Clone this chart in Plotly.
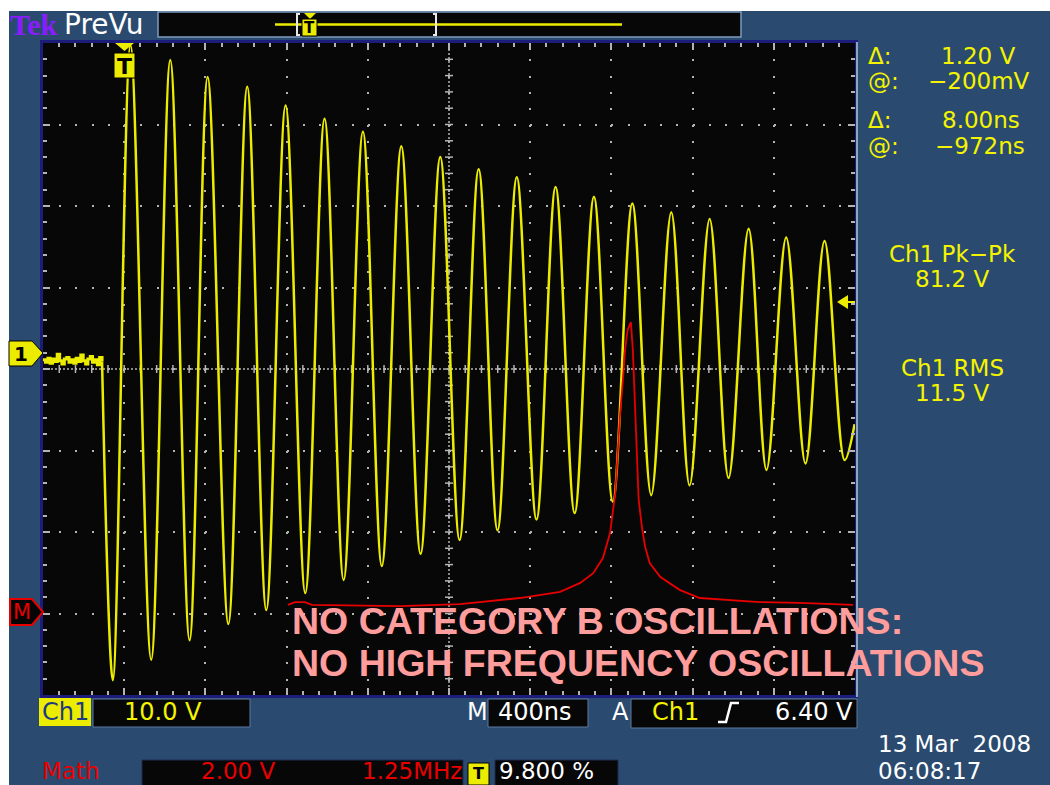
import plotly.graph_objects as go

# ---------------- DATA ----------------
# Ch1 pre-trigger noise (time ns relative to trigger, volts)
noise_t = [-392, -380, -368, -357, -345, -334, -322, -310, -299, -287, -275, -264, -252,
           -240, -229, -217, -206, -194, -182, -171, -159, -148, -136, -124, -113, -101]
noise_v = [-0.6, -0.9, -0.4, -1.0, -0.5, -0.8, 0.1, -0.7, -1.1, -0.5, -0.3, -0.9, -0.6,
           -1.0, -0.4, -0.8, 0.0, -0.7, -1.1, -0.5, -0.2, -0.9, -0.6, -1.2, -0.3, -0.8]

# Ch1 ringing: positive peaks and negative troughs (ns, V)
peak_t = [39, 235, 419, 614, 803, 995, 1184, 1373, 1565, 1754, 1942, 2133, 2322, 2511,
          2703, 2892, 3084, 3269, 3458]
peak_v = [38.0, 36.2, 34.1, 32.9, 30.6, 29.0, 27.4, 25.6, 24.3, 22.8, 21.8, 20.6, 19.4,
          18.6, 17.5, 16.7, 15.5, 14.4, 14.0]
trough_t = [-48, 141, 330, 521, 708, 900, 1089, 1277, 1468, 1660, 1847, 2039, 2227, 2415,
            2604, 2793, 2985, 3172, 3364, 3557]
trough_v = [-39.9, -37.4, -35.0, -33.0, -31.3, -29.2, -27.6, -25.9, -24.4, -22.7, -21.5,
            -20.2, -19.4, -18.0, -17.2, -16.0, -15.1, -14.1, -13.3, -12.9]
end_t = [3606]
end_v = [-8.5]

# Math (FFT) trace: frequency MHz, magnitude V
fft_f = [3.77, 3.88, 4.03, 4.14, 5.50, 6.42, 7.34, 7.96, 8.27, 8.47, 8.62, 8.73, 8.77, 8.81,
         8.85, 8.88, 8.93, 8.96, 9.00, 9.05, 9.08, 9.11, 9.14, 9.17, 9.22, 9.27, 9.34, 9.50,
         9.80, 10.11, 11.03, 11.65, 12.47]
fft_v = [0.21, 0.28, 0.28, 0.21, 0.18, 0.23, 0.38, 0.53, 0.75, 0.99, 1.36, 1.98, 2.47, 2.96,
         4.01, 4.82, 5.80, 6.47, 6.96, 7.15, 6.47, 5.24, 3.77, 2.79, 2.12, 1.63, 1.24, 0.90,
         0.58, 0.38, 0.28, 0.26, 0.21]

# Readouts
cursor_v_delta = "1.20 V"
cursor_v_at = "−200mV"
cursor_t_delta = "8.00ns"
cursor_t_at = "−972ns"
pkpk_label, pkpk_value = "Ch1 Pk−Pk", "81.2 V"
rms_label, rms_value = "Ch1 RMS", "11.5 V"
ch1_scale = "10.0 V"
time_scale = "400ns"
trig_level = "6.40 V"
math_scale = "2.00 V"
math_freq = "1.25MHz"
trig_pos = "9.800 %"
date_str = "13 Mar  2008"
time_str = "06:08:17"
overlay_lines = ["NO CATEGORY B OSCILLATIONS:", "NO HIGH FREQUENCY OSCILLATIONS"]

# ---------------- STYLE ----------------
BLUE = "#2a4b6f"
YEL = "#ecec00"
TXTY = "#f4f400"
RED = "#e80000"
GRID = "#b4b4b4"
NAVY = "#1c1c7a"
SANS = "DejaVu Sans"

L, R, T, B = 43, 855, 43, 695
W, H = R - L, B - T


def px(x):
    return (x - L) / W


def py(y):
    return (B - y) / H


shapes, anns = [], []


def rect(x0, y0, x1, y1, fill, line=None, lw=1, layer="above"):
    shapes.append(dict(type="rect", xref="paper", yref="paper",
                       x0=px(x0), x1=px(x1), y0=py(y1), y1=py(y0),
                       fillcolor=fill,
                       line=dict(color=line if line else fill, width=lw if line else 0),
                       layer=layer))


def path(pts, fill=None, line=None, lw=1, close=True, layer="above"):
    s = "M " + " L ".join(f"{px(x):.5f},{py(y):.5f}" for x, y in pts)
    if close:
        s += " Z"
    d = dict(type="path", xref="paper", yref="paper", path=s, layer=layer,
             line=dict(color=line if line else (fill or "rgba(0,0,0,0)"),
                       width=lw if line else 0))
    if fill:
        d["fillcolor"] = fill
    shapes.append(d)


def text(x, y, s, color, size=24, anchor="left", family=SANS):
    anns.append(dict(xref="paper", yref="paper", x=px(x), y=py(y), text=s,
                     showarrow=False, xanchor=anchor, yanchor="middle", borderpad=0,
                     font=dict(family=family, size=size, color=color)))


# ---------------- TRACES ----------------
wave_t = [noise_t[-1]]
wave_v = [noise_v[-1]]
for i in range(len(trough_t)):
    wave_t.append(trough_t[i])
    wave_v.append(trough_v[i])
    if i < len(peak_t):
        wave_t.append(peak_t[i])
        wave_v.append(peak_v[i])
wave_t += end_t
wave_v += end_v

fig = go.Figure()
fig.add_trace(go.Scatter(x=noise_t, y=noise_v, mode="lines",
                         line=dict(color=YEL, width=3, shape="hv"), hoverinfo="skip"))
fig.add_trace(go.Scatter(x=wave_t, y=wave_v, mode="lines",
                         line=dict(color=YEL, width=2.5, shape="spline", smoothing=1.0),
                         hoverinfo="skip"))
fig.add_trace(go.Scatter(x=fft_f, y=fft_v, mode="lines", xaxis="x2", yaxis="y2",
                         line=dict(color=RED, width=1.8), hoverinfo="skip"))

# ---------------- GRATICULE ----------------
XC, YC = 1608, -1.72
shapes.append(dict(type="line", xref="x", yref="y", x0=-392, x1=3608, y0=YC, y1=YC,
                   line=dict(color=GRID, width=1.5, dash="2px,2px"), layer="below"))
shapes.append(dict(type="line", xref="x", yref="y", x0=XC, x1=XC, y0=-41.72, y1=38.28,
                   line=dict(color=GRID, width=1.5, dash="2px,2px"), layer="below"))
for k in range(1, 50):
    t = -392 + 80 * k
    shapes.append(dict(type="line", xref="x", yref="y", ysizemode="pixel", yanchor=YC,
                       x0=t, x1=t, y0=-4, y1=4, line=dict(color=GRID, width=1.5),
                       layer="below"))
for k in range(1, 40):
    v = -41.72 + 2 * k
    shapes.append(dict(type="line", xref="x", yref="y", xsizemode="pixel", xanchor=XC,
                       x0=-4, x1=4, y0=v, y1=v, line=dict(color=GRID, width=1.5),
                       layer="below"))

# ---------------- FRAME / BACKGROUND ----------------
rect(0, 0, 1050, 11, "#ffffff", layer="below")
rect(0, 0, 9, 785, "#ffffff", layer="below")
shapes.append(dict(type="line", xref="paper", yref="paper", x0=px(857), x1=px(857),
                   y0=py(42), y1=py(697), line=dict(color="#8ea4c4", width=2)))

# top bar
text(9, 25, "<b>Tek</b>", "#8a1cff", size=30, family="Liberation Serif")
text(63, 24, "PreVu", "#ffffff", size=28)
rect(158, 12, 741, 37, "#070707", line="#7f9cc0", lw=1.5)
shapes.append(dict(type="line", xref="paper", yref="paper", x0=px(275), x1=px(622),
                   y0=py(24.5), y1=py(24.5), line=dict(color=YEL, width=2.5)))
path([(300, 14), (297, 14), (297, 35), (300, 35)], line="#e8e8e8", lw=2, close=False)
path([(433, 14), (436, 14), (436, 35), (433, 35)], line="#e8e8e8", lw=2, close=False)
path([(304, 13), (316, 13), (310, 19)], fill=YEL)
rect(302, 19, 317, 36, YEL, line="#000000", lw=1)
text(309.5, 28, "<b>T</b>", "#000000", size=15, anchor="center")

# trigger marker on trace
path([(115, 43), (134, 43), (124.5, 51)], fill=YEL)
rect(114, 53, 135, 78, YEL, line="#000000", lw=1)
text(124.5, 66, "<b>T</b>", "#000000", size=22, anchor="center")

# channel markers
path([(9, 341), (32, 341), (43, 353), (32, 366), (9, 366)], fill=YEL, line="#000000", lw=1)
text(21, 354, "<b>1</b>", "#000000", size=20, anchor="center")
path([(10, 599), (32, 599), (43, 612), (32, 625), (10, 625)], fill="#050505", line=RED, lw=2)
text(22, 612, "M", RED, size=21, anchor="center")

# trigger level arrow
path([(837, 302), (848, 295), (848, 309)], fill=YEL)
shapes.append(dict(type="line", xref="paper", yref="paper", x0=px(847), x1=px(855),
                   y0=py(302), y1=py(302), line=dict(color=YEL, width=2)))

# right panel readouts
RS = 23
text(867, 56, "Δ:", TXTY, size=RS)
text(1017, 56, cursor_v_delta, TXTY, size=RS, anchor="right")
text(867, 81, "@:", TXTY, size=RS)
text(1031, 81, cursor_v_at, TXTY, size=RS, anchor="right")
text(867, 120, "Δ:", TXTY, size=RS)
text(1021, 120, cursor_t_delta, TXTY, size=RS, anchor="right")
text(867, 146, "@:", TXTY, size=RS)
text(1026, 146, cursor_t_at, TXTY, size=RS, anchor="right")
text(953, 254, pkpk_label, TXTY, size=RS, anchor="center")
text(953, 279, pkpk_value, TXTY, size=RS, anchor="center")
text(953, 368, rms_label, TXTY, size=RS, anchor="center")
text(953, 393, rms_value, TXTY, size=RS, anchor="center")

# bottom bar row 1
rect(39, 698, 91, 726, YEL)
text(65, 712, "Ch1", "#1f3a80", anchor="center")
rect(93, 699, 250, 727, "#070707", line="#5d7aa0", lw=1)
text(123, 712, ch1_scale, TXTY)
text(466, 712, "M", "#ffffff")
rect(488, 699, 588, 727, "#070707", line="#5d7aa0", lw=1)
text(497, 712, time_scale, "#ffffff")
text(611, 712, "A", "#ffffff")
rect(631, 699, 857, 728, "#070707", line="#5d7aa0", lw=1)
text(651, 712, "Ch1", TXTY)
path([(718, 722), (726, 722), (731, 703), (739, 703)], line="#ffffff", lw=2.5, close=False)
text(854, 712, trig_level, "#ffffff", anchor="right")

# bottom bar row 2
BS = 23
text(41, 771, "Math", RED, size=BS)
rect(142, 760, 463, 790, "#070707", line="#1c2c50", lw=1)
text(200, 771, math_scale, RED, size=BS)
text(463, 771, math_freq, RED, size=BS, anchor="right")
rect(468, 763, 489, 785, YEL, line="#000000", lw=1)
text(478.5, 773, "<b>T</b>", "#000000", size=16, anchor="center")
rect(495, 760, 618, 790, "#070707", line="#1c2c50", lw=1)
text(498, 771, trig_pos, "#ffffff", size=BS)
text(877, 744, date_str, "#ffffff", size=BS)
text(877, 771, time_str, "#ffffff", size=BS)

# overlay comment
text(291, 621, "<b>" + overlay_lines[0] + "</b>", "#ff9c9c", size=37.5, family="Liberation Sans")
text(291, 663, "<b>" + overlay_lines[1] + "</b>", "#ff9c9c", size=37.5, family="Liberation Sans")

# ---------------- LAYOUT ----------------
fig.update_layout(
    width=1050, height=785,
    margin=dict(l=L, r=1050 - R, t=T, b=785 - B),
    paper_bgcolor=BLUE, plot_bgcolor="#070707",
    showlegend=False,
    xaxis=dict(range=[-392, 3608], tick0=8, dtick=400, showgrid=True, gridcolor=GRID,
               gridwidth=2, griddash="2px,14.3px", zeroline=False, showticklabels=False,
               ticks="inside", ticklen=7, tickcolor=GRID, tickwidth=1.5,
               showline=True, linecolor=NAVY, linewidth=3, mirror="allticks",
               minor=dict(dtick=80, tick0=8, ticks="inside", ticklen=4, tickcolor=GRID,
                          showgrid=False),
               fixedrange=True),
    yaxis=dict(range=[-41.72, 38.28], tick0=-1.72, dtick=10, showgrid=True, gridcolor=GRID,
               gridwidth=2, griddash="2px,14.24px", zeroline=False, showticklabels=False,
               ticks="inside", ticklen=7, tickcolor=GRID, tickwidth=1.5,
               showline=True, linecolor=NAVY, linewidth=3, mirror="allticks",
               minor=dict(dtick=2, tick0=-1.72, ticks="inside", ticklen=4, tickcolor=GRID,
                          showgrid=False),
               fixedrange=True),
    xaxis2=dict(range=[0, 12.5], overlaying="x", anchor="y2", visible=False,
                fixedrange=True),
    yaxis2=dict(range=[-2, 14], overlaying="y", anchor="x2", visible=False,
                fixedrange=True),
    shapes=shapes,
    annotations=anns,
)

fig.write_html("out.html", config={"displayModeBar": False},
               post_script="document.body.style.margin='0';")
